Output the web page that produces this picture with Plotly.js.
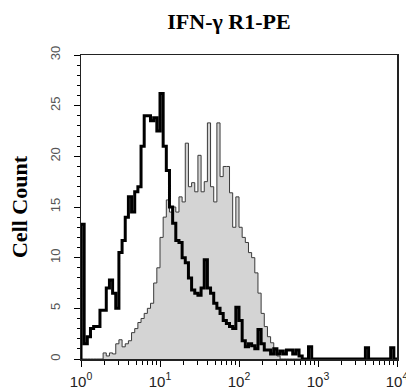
<!DOCTYPE html>
<html>
<head>
<meta charset="utf-8">
<script src="https://cdn.plot.ly/plotly-3.0.1.min.js"></script>
<style>html,body{margin:0;padding:0;background:#fff;}#chart{width:406px;height:389px;}</style>
</head>
<body>
<div id="chart"></div>
<script>
// Histogram bins: log10 width of each channel bin (decades)
const binWidthDecades = 0.04;
// Control (black, thick outline) counts per bin
const controlCounts = [
  13.3, 1.5, 2.2, 3.0, 3.2, 3.2, 4.8, 4.8, 7.0, 7.8,
  6.5, 5.0, 10.5, 11.7, 14.0, 16.0, 14.5, 16.5, 17.0, 21.0,
  24.0, 24.0, 23.5, 23.8, 22.5, 26.2, 21.0, 18.6, 15.0, 13.4,
  11.7, 11.5, 10.0, 9.5, 8.0, 6.8, 6.5, 6.3, 7.0, 9.8,
  7.0, 6.5, 5.5, 5.0, 4.5, 3.8, 3.5, 3.2, 3.0, 5.1,
  3.8, 1.8, 1.2, 1.5, 1.3, 1.0, 2.9, 1.5, 0.9, 0.9,
  0.5, 1.0, 0.5, 0.8, 0.5, 0.9, 0.9, 0.5, 0.9, 0.3,
  0, 0, 1.2, 0, 0, 0, 0, 0, 0, 0,
  0, 0, 0, 0, 0, 0, 0, 0, 0, 0,
  1.1, 0, 0, 0, 0, 0, 0, 0, 1.1, 0
];
// IFN-gamma R1-PE stained (grey filled) counts per bin
const stainedCounts = [
  0, 0, 0, 0, 0, 0, 0, 0.6, 0.3, 0.6,
  0.5, 1.5, 1.9, 1.2, 1.5, 1.8, 2.6, 3.0, 3.6, 4.0,
  4.5, 5.0, 5.5, 7.5, 9.0, 12.0, 14.0, 15.7, 14.5, 15.0,
  14.5, 16.0, 15.5, 21.3, 17.0, 17.4, 16.5, 20.1, 16.5, 17.5,
  23.3, 17.0, 15.5, 23.3, 18.0, 19.0, 19.0, 16.4, 13.0, 16.0,
  13.0, 12.0, 11.5, 10.5, 10.0, 8.5, 6.5, 4.5, 3.2, 2.2,
  1.6, 0.9, 0.3, 0, 0, 0, 0, 0, 0, 0,
  0, 0, 0, 0, 0, 0, 0, 0, 0, 0,
  0, 0, 0, 0, 0, 0, 0, 0, 0, 0,
  0, 0, 0, 0, 0, 0, 0, 0, 0, 0
];
const decadeTicks = [1, 10, 100, 1000, 10000];
const decadeLabels = ['10<sup>0</sup>', '10<sup>1</sup>', '10<sup>2</sup>', '10<sup>3</sup>', '10<sup>4</sup>'];
const titleText = '<b>IFN-γ R1-PE</b>';
const yTitleText = '<b>Cell Count</b>';

function stepXY(counts) {
  const xs = [1], ys = [0];
  counts.forEach((c, i) => { xs.push(Math.pow(10, i * binWidthDecades)); ys.push(c); });
  xs.push(Math.pow(10, counts.length * binWidthDecades)); ys.push(counts[counts.length - 1]);
  return {xs, ys};
}
const minorVals = [];
for (let d = 0; d < 4; d++) for (let m = 2; m <= 9; m++) minorVals.push(m * Math.pow(10, d));

const s = stepXY(stainedCounts);
const c = stepXY(controlCounts);
const traces = [
  {x: s.xs, y: s.ys, type: 'scatter', mode: 'lines', line: {shape: 'hv', color: '#3a3a3a', width: 1},
   fill: 'tozeroy', fillcolor: '#d4d4d4', hoverinfo: 'skip'},
  {x: c.xs, y: c.ys, type: 'scatter', mode: 'lines', line: {shape: 'hv', color: '#000', width: 3}, hoverinfo: 'skip'}
];
const layout = {
  width: 406, height: 389,
  margin: {l: 81, r: 9, t: 55, b: 30},
  paper_bgcolor: '#fff', plot_bgcolor: '#fff',
  showlegend: false,
  title: {text: titleText, x: 0.564, xanchor: 'center', y: 0.946, yanchor: 'middle',
          font: {family: 'Liberation Serif', size: 22, color: '#000'}},
  xaxis: {type: 'log', range: [0, 4], tickvals: decadeTicks, ticktext: decadeLabels,
          ticks: 'outside', ticklen: 6, tickwidth: 1, tickcolor: '#000',
          showline: true, linecolor: '#222', linewidth: 1.5, mirror: true,
          showgrid: false, zeroline: false, ticklabelstandoff: 2, ticklabeloverflow: 'allow',
          tickfont: {family: 'Liberation Sans', size: 15, color: '#222'},
          minor: {tickvals: minorVals, ticks: 'outside', ticklen: 4, tickcolor: '#000', showgrid: false}},
  yaxis: {range: [0, 30], tick0: 0, dtick: 5, tickangle: -90,
          ticks: 'outside', ticklen: 6, tickwidth: 1, tickcolor: '#000',
          showline: true, linecolor: '#222', linewidth: 1.5, mirror: true,
          showgrid: false, zeroline: false, ticklabelstandoff: 8,
          tickfont: {family: 'Liberation Sans', size: 13, color: '#555'},
          minor: {dtick: 1, ticks: 'outside', ticklen: 3, tickcolor: '#000', showgrid: false},
          title: {text: yTitleText, standoff: 14, font: {family: 'Liberation Serif', size: 22, color: '#000'}}}
};
Plotly.newPlot('chart', traces, layout, {staticPlot: true, displayModeBar: false});
</script>
</body>
</html>
